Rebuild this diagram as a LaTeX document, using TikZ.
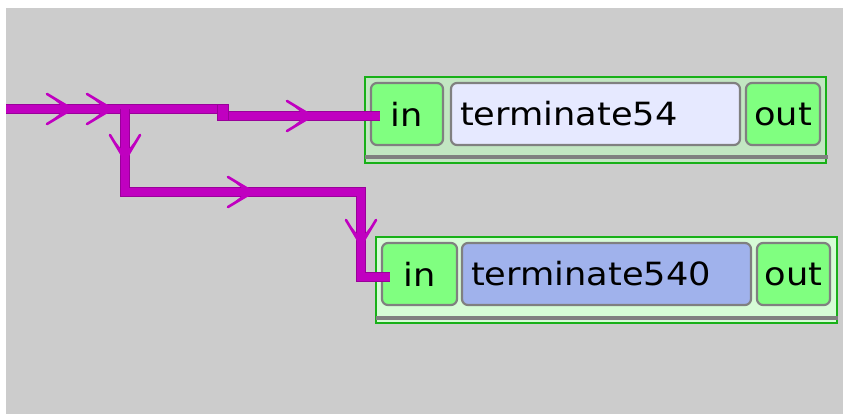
\documentclass[tikz,border=0pt]{standalone}
\usepackage{fontspec}
\setmainfont{DejaVu Sans}[FakeStretch=1.1]
\definecolor{bgc}{HTML}{CCCCCC}
\definecolor{wirec}{HTML}{C000C0}
\definecolor{wireedge}{HTML}{9A009A}
\definecolor{outerA}{HTML}{C2E6C2}
\definecolor{outerB}{HTML}{D6FCD6}
\definecolor{greenb}{HTML}{18B018}
\definecolor{portc}{HTML}{80FF80}
\definecolor{nameA}{HTML}{E6E9FF}
\definecolor{nameB}{HTML}{A0B2EC}
\definecolor{boxedge}{HTML}{808080}
\tikzset{
  outerbox/.style={draw=greenb, line width=1.5pt, minimum width=461pt, minimum height=86pt, inner sep=0pt},
  port/.style={draw=boxedge, line width=2.2pt, fill=portc, rounded corners=6pt, minimum height=62pt, inner sep=0pt, font=\fontsize{32}{36}\selectfont},
  namebox/.style={draw=boxedge, line width=2.2pt, rounded corners=6pt, minimum height=62pt, text width=271pt, inner xsep=9pt, inner ysep=0pt, align=left, font=\fontsize{32}{36}\selectfont},
  wire/.style={draw=wireedge, line width=1pt, double=wirec, double distance=8pt},
  barc/.style={fill=boxedge},
  chevr/.pic={\draw[wirec, line width=2.6pt, line cap=round] (-25,-15) -- (0,0) -- (-25,15);
              \fill[wirec] (-25,-15) -- (3,0) -- (-25,15) -- (-10,3) -- (-10,-3) -- cycle;},
  chevd/.pic={\draw[wirec, line width=2.6pt, line cap=round] (-15,-25) -- (0,0) -- (15,-25);
              \fill[wirec] (-15,-25) -- (0,3) -- (15,-25) -- (3,-10) -- (-3,-10) -- cycle;},
}
\begin{document}
\begin{tikzpicture}[x=1pt,y=-1pt]
\useasboundingbox (0,0) rectangle (843,414);
\fill[white] (0,0) rectangle (843,414);
\fill[bgc] (6,8) rectangle (843,414);

% top block
\node[outerbox, fill=outerA] (blkA) at (595.5,120) {};
\fill[barc] (365,155) rectangle (828,159);
\node[port, minimum width=72pt] (inA) at (407,114) {in};
\node[namebox, fill=nameA] (nmA) at (595.5,114) {terminate54};
\node[port, minimum width=74pt] (outA) at (783,114) {out};

% bottom block
\node[outerbox, fill=outerB] (blkB) at (606.5,280) {};
\fill[barc] (376,316) rectangle (838,320);
\node[port, minimum width=75pt] (inB) at (419.5,274) {in};
\node[namebox, fill=nameB] (nmB) at (606.5,274) {terminate540};
\node[port, minimum width=73pt] (outB) at (793.5,274) {out};

% wires
\coordinate (src) at (6,109);
\coordinate (stepA) at (228,109);
\coordinate (stepB) at (217,116);
\coordinate (endA) at (380,116);
\coordinate (split) at (125,109);
\coordinate (c1) at (125,192);
\coordinate (c2) at (361,192);
\coordinate (c3) at (361,277);
\coordinate (endB) at (390,277);

\draw[wire] (src) -- (stepA);
\draw[wire] (stepB) -- (endA);
\draw[wire] (split) -- (c1) -- (c2) -- (c3) -- (endB);
\fill[wirec] (217,105) rectangle (228,120);
\draw[wireedge, line width=0.8pt] (217,104) rectangle (228,120);

% arrow marks
\pic at (72,109) {chevr};
\pic at (112,109) {chevr};
\pic at (312,116) {chevr};
\pic at (253,192) {chevr};
\pic at (125,160) {chevd};
\pic at (361,245) {chevd};
\end{tikzpicture}
\end{document}
